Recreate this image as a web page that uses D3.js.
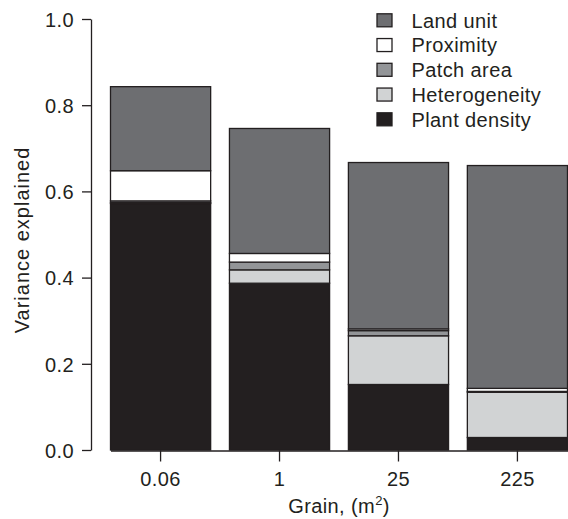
<!DOCTYPE html>
<html>
<head>
<meta charset="utf-8">
<script src="https://cdn.jsdelivr.net/npm/d3@7"></script>
<style>
  body { margin: 0; background: #fff; }
  text { font-family: "Liberation Sans", Arial, Helvetica, sans-serif; fill: #231f20; }
</style>
</head>
<body>
<div id="chart"></div>
<script>
const grains = ["0.06", "1", "25", "225"];
const plantDensity = [0.572, 0.387, 0.152, 0.029];
const heterogeneity = [0.002, 0.031, 0.113, 0.105];
const patchArea = [0.004, 0.018, 0.012, 0.002];
const proximity = [0.070, 0.020, 0.004, 0.007];
const landUnit = [0.195, 0.290, 0.386, 0.517];
const yTicks = [0, 0.2, 0.4, 0.6, 0.8, 1.0];

// stacking order, bottom to top
const keys = ["Plant density", "Heterogeneity", "Patch area", "Proximity", "Land unit"];
const colors = {
  "Plant density": "#231f20",
  "Heterogeneity": "#d1d3d4",
  "Patch area": "#939598",
  "Proximity": "#ffffff",
  "Land unit": "#6d6e71",
};

const rows = grains.map((g, i) => ({
  grain: g,
  "Plant density": plantDensity[i],
  "Heterogeneity": heterogeneity[i],
  "Patch area": patchArea[i],
  "Proximity": proximity[i],
  "Land unit": landUnit[i],
}));

const width = 568;
const height = 519;
const ink = "#231f20";
const fontSize = 20;
const spacing = 0.4;

const svg = d3
  .select("#chart")
  .append("svg")
  .attr("width", width)
  .attr("height", height);

const x = d3
  .scaleBand()
  .domain(grains)
  .range([110.5, 567.5])
  .paddingInner(0.158)
  .paddingOuter(0);

const y = d3.scaleLinear().domain([0, 1]).range([450, 19]);

const series = d3.stack().keys(keys)(rows);

// bars
svg
  .append("g")
  .selectAll("g")
  .data(series)
  .enter()
  .append("g")
  .attr("fill", (d) => colors[d.key])
  .selectAll("rect")
  .data((d) => d)
  .enter()
  .append("rect")
  .attr("x", (d) => x(d.data.grain))
  .attr("width", x.bandwidth())
  .attr("y", (d) => y(d[1]))
  .attr("height", (d) => y(d[0]) - y(d[1]))
  .attr("stroke", ink)
  .attr("stroke-width", 1.3);

// y axis
const yAxis = svg
  .append("g")
  .attr("transform", "translate(91,0)")
  .call(
    d3
      .axisLeft(y)
      .tickValues(yTicks)
      .tickFormat(d3.format(".1f"))
      .tickSize(9)
      .tickSizeOuter(0)
      .tickPadding(8)
  );
yAxis.attr("font-family", null).attr("font-size", null);
yAxis.selectAll("path, line").attr("stroke", ink).attr("stroke-width", 1.3);
yAxis
  .selectAll("text")
  .attr("font-size", fontSize)
  .attr("letter-spacing", spacing)
  .attr("dy", "0.36em");

// x axis
const xAxis = svg
  .append("g")
  .attr("transform", "translate(0,450.5)")
  .call(d3.axisBottom(x).tickSize(11).tickSizeOuter(0));
xAxis.attr("font-family", null).attr("font-size", null);
xAxis.selectAll("path, line").attr("stroke", ink).attr("stroke-width", 1.3);
xAxis
  .selectAll("text")
  .attr("font-size", fontSize)
  .attr("letter-spacing", spacing)
  .attr("y", 35)
  .attr("dy", 0);

// axis titles
const xTitle = svg
  .append("text")
  .attr("x", (110.5 + 567.5) / 2)
  .attr("y", 513)
  .attr("text-anchor", "middle")
  .attr("font-size", fontSize)
  .attr("letter-spacing", spacing);
xTitle.append("tspan").text("Grain, (m");
xTitle.append("tspan").attr("font-size", 13).attr("dy", -8).text("2");
xTitle.append("tspan").attr("dy", 8).text(")");

svg
  .append("text")
  .attr("transform", "translate(29,240) rotate(-90)")
  .attr("text-anchor", "middle")
  .attr("font-size", fontSize)
  .attr("letter-spacing", 1)
  .text("Variance explained");

// legend, top to bottom
const legendKeys = keys.slice().reverse();
const legend = svg
  .append("g")
  .selectAll("g")
  .data(legendKeys)
  .enter()
  .append("g")
  .attr("transform", (d, i) => `translate(377,${20.3 + i * 24.75})`);

legend
  .append("rect")
  .attr("x", 0)
  .attr("y", -6.5)
  .attr("width", 15)
  .attr("height", 13)
  .attr("fill", (d) => colors[d])
  .attr("stroke", ink)
  .attr("stroke-width", 1.3);

legend
  .append("text")
  .attr("x", 34.5)
  .attr("dy", "0.36em")
  .attr("font-size", fontSize)
  .attr("letter-spacing", spacing)
  .text((d) => d);
</script>
</body>
</html>
